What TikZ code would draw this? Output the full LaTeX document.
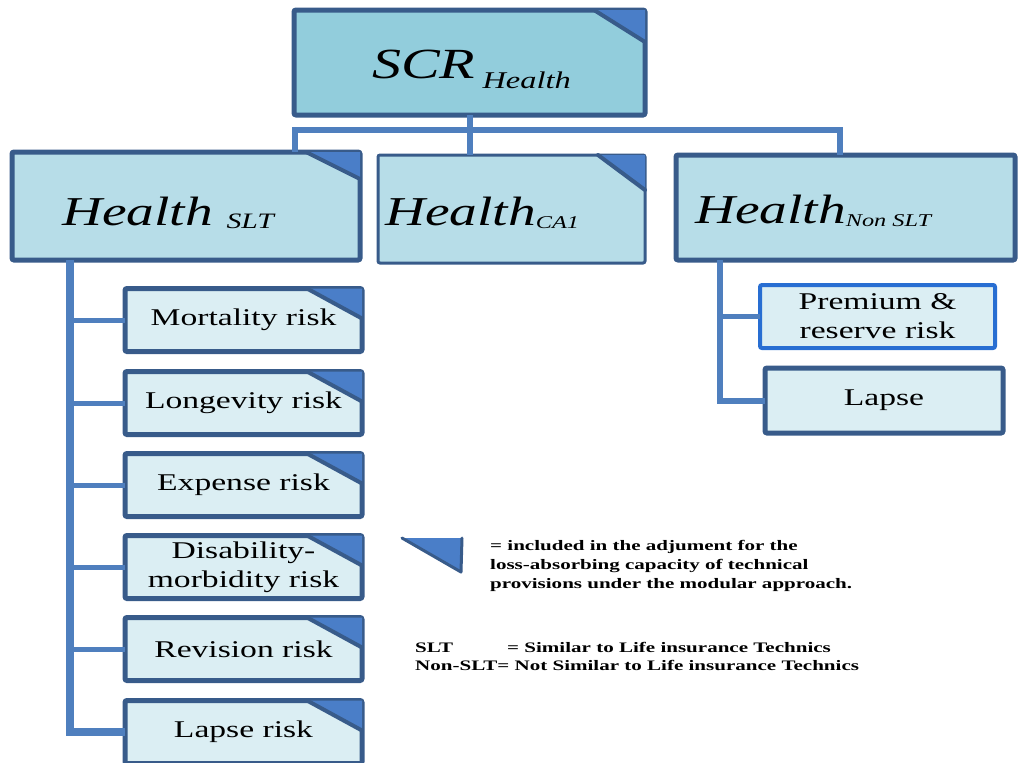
\documentclass[tikz,border=0pt]{standalone}
\usepackage{fontspec}
\setmainfont{Liberation Serif}
\newfontfamily\bxfont{Liberation Serif}[FakeStretch=1.4]
\newfontfamily\hdfont{Liberation Serif}[FakeStretch=1.35]
\newfontfamily\lgfont{Liberation Serif}[FakeStretch=1.45]
\usetikzlibrary{calc}
\definecolor{bordc}{RGB}{56,91,138}
\definecolor{connc}{RGB}{79,127,190}
\definecolor{foldc}{RGB}{74,126,200}
\definecolor{topfill}{RGB}{146,205,220}
\definecolor{midfill}{RGB}{183,221,232}
\definecolor{subfill}{RGB}{219,238,243}
\definecolor{brightb}{RGB}{40,110,210}
\newcommand\foldcorner[3]{%
  \fill[foldc] ($(#1.north east)+(-#2,0)$) -- (#1.north east) -- ($(#1.north east)+(0,#3)$) -- cycle;
  \draw[bordc,line width=4pt,line cap=round] ($(#1.north east)+(-#2,0)$) -- ($(#1.north east)+(0,#3)$);}
\begin{document}
\begin{tikzpicture}[x=1pt,y=-1pt,
  box/.style={draw=bordc,rounded corners=2pt,outer sep=0pt,inner sep=0pt,anchor=center},
  topbox/.style={box,fill=topfill,line width=5pt,minimum width=351pt,minimum height=105pt},
  midbox/.style={box,fill=midfill,line width=5pt,minimum height=105pt},
  subbox/.style={box,fill=subfill,line width=5pt,minimum width=237pt,minimum height=63pt,
     font=\bxfont\fontsize{24}{26}\selectfont,align=center},
  conn/.style={draw=connc,line width=6pt},
  connthick/.style={draw=connc,line width=8pt},
  connthin/.style={draw=connc,line width=5pt},
  legtext/.style={anchor=base west,inner sep=0pt,font=\lgfont\bfseries\fontsize{14.5}{16}\selectfont}]
\useasboundingbox (0,0) rectangle (1018,763);
% top
\node[topbox] (scr) at (469.5,62.5) {};
\node[anchor=base west,inner sep=0pt,font=\hdfont\itshape] (scrt) at (372,78)
  {\fontsize{43}{45}\selectfont SCR\,\fontsize{24}{26}\selectfont\raisebox{-10pt}{Health}};
\foldcorner{scr}{51}{32}
% second level
\node[midbox,minimum width=348pt,minimum height=108pt] (slt) at (186,206) {};
\node[anchor=base west,inner sep=0pt,font=\hdfont\itshape] (sltt) at (62,225)
  {\fontsize{41}{43}\selectfont Health\,\,\fontsize{22}{24}\selectfont\raisebox{-3pt}{SLT}};
\foldcorner{slt}{54}{27}
\node[midbox,line width=3pt,minimum width=267pt,minimum height=108pt] (ca1) at (511.5,209) {};
\node[anchor=base west,inner sep=0pt,font=\hdfont\itshape] (ca1t) at (385,225)
  {\fontsize{41}{43}\selectfont Health\fontsize{18}{20}\selectfont\raisebox{-3pt}{CA1}};
\foldcorner{ca1}{47}{35}
\node[midbox,minimum width=339pt] (nslt) at (845.5,207.5) {};
\node[anchor=base west,inner sep=0pt,font=\hdfont\itshape] (nsltt) at (695,223)
  {\fontsize{41}{43}\selectfont Health\fontsize{18}{20}\selectfont\raisebox{-3pt}{Non SLT}};
% connectors top
\coordinate (bl) at (295,130);
\coordinate (br) at (840,130);
\draw[conn] (scr.south) -- (scr.south |- ca1.north);
\draw[conn] (slt.north -| bl) -- (bl) -- (br) -- (nslt.north -| br);
% left sub boxes
\node[subbox] (s1) at (243.5,320) {Mortality risk};
\node[subbox] (s2) at (243.5,403) {Longevity risk};
\node[subbox] (s3) at (243.5,485) {Expense risk};
\node[subbox,font=\bxfont\fontsize{24}{29}\selectfont] (s4) at (243.5,567) {Disability-\\morbidity risk};
\node[subbox] (s5) at (243.5,649) {Revision risk};
\node[subbox] (s6) at (243.5,732) {Lapse risk};
\foreach \n in {s1,s2,s3,s4,s5,s6}{\foldcorner{\n}{55}{30}}
\coordinate (lt) at (70,0);
\draw[connthick] (slt.south -| lt) |- (s6.west);
\foreach \n in {s1,s2,s3,s4,s5}{\draw[connthin] (lt |- \n.west) -- (\n.west);}
% right sub boxes
\node[subbox,draw=brightb,line width=4pt,minimum width=235pt,font=\bxfont\fontsize{24}{29}\selectfont] (r1) at (877.5,316.5) {Premium \&\\reserve risk};
\node[subbox,minimum width=238pt,minimum height=65pt] (r2) at (884,400.5) {Lapse};
\coordinate (rt) at (720,0);
\draw[conn] (nslt.south -| rt) |- (r2.west);
\draw[connthin] (rt |- r1.west) -- (r1.west);
% legend
\coordinate (la) at (402,538);
\coordinate (lb) at (462,538);
\coordinate (lc) at (461,572);
\fill[foldc] (la) -- (lb) -- (lc) -- cycle;
\draw[bordc,line width=3pt,line cap=round,line join=round] (la) -- (lc) -- (lb);
\node[legtext] (l1) at (490,550) {= included in the adjument for the};
\node[legtext] (l2) at (490,569) {loss-absorbing capacity of technical};
\node[legtext] (l3) at (490,588) {provisions under the modular approach.};
\node[legtext] (l4) at (415,652) {SLT};
\node[legtext] (l5) at (507,652) {= Similar to Life insurance Technics};
\node[legtext] (l6) at (415,670) {Non-SLT= Not Similar to Life insurance Technics};
\end{tikzpicture}
\end{document}
